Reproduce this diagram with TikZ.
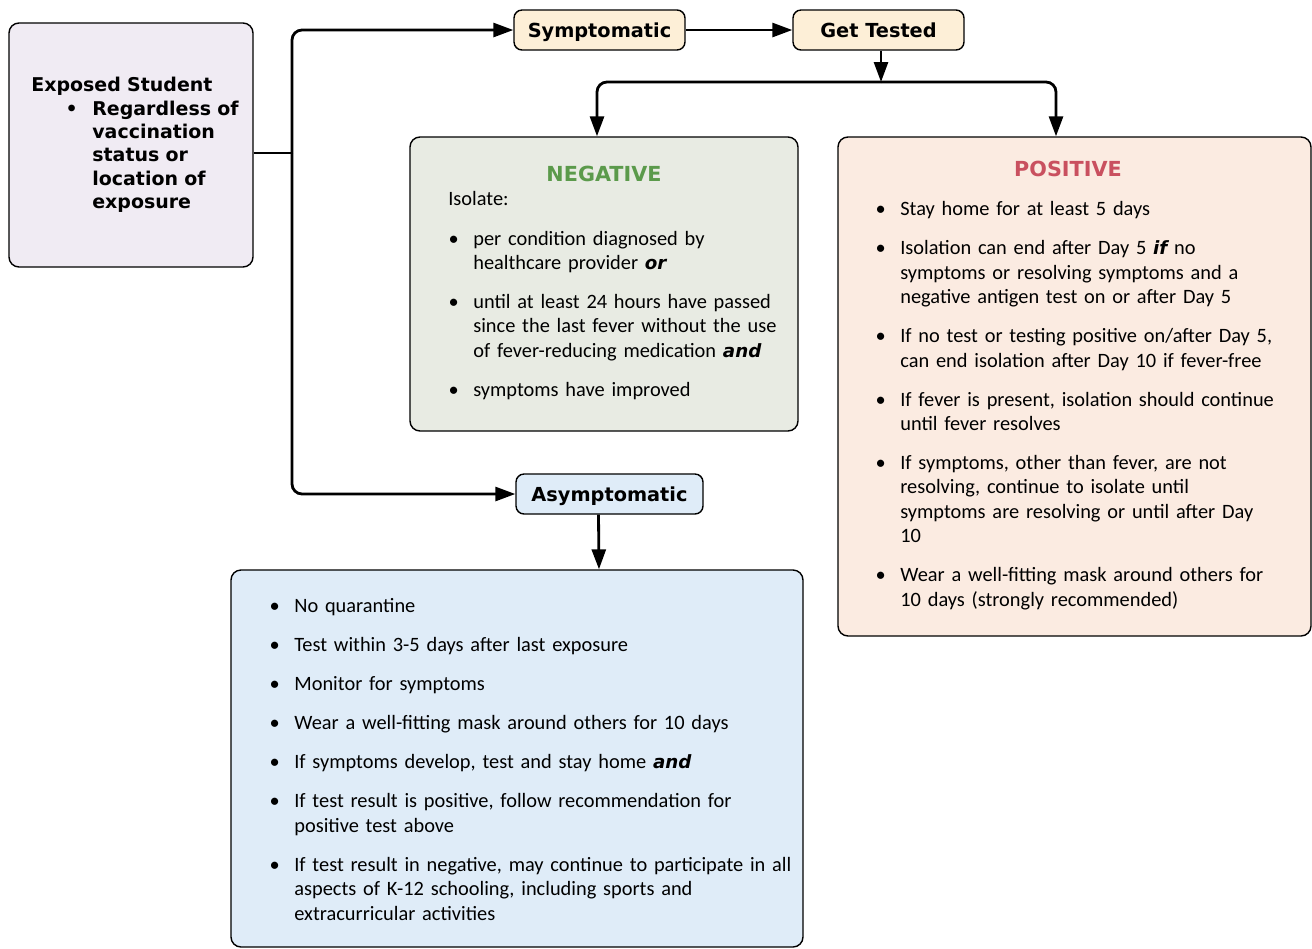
\documentclass[tikz,border=0pt]{standalone}
\usepackage{fontspec}
\setmainfont{Carlito}
\newfontfamily\headfont{DejaVu Sans}
\usepackage{enumitem}
\usetikzlibrary{arrows.meta,positioning,fit}
\definecolor{qlilac}{HTML}{F0EBF3}
\definecolor{qsand}{HTML}{FDEFD7}
\definecolor{qsage}{HTML}{E8EBE3}
\definecolor{qpeach}{HTML}{FBEBE1}
\definecolor{qsky}{HTML}{DFECF8}
\definecolor{qgreen}{HTML}{5B9A4B}
\definecolor{qred}{HTML}{C9505F}
\setlist[itemize]{label=\textbullet, labelwidth=0pt, labelsep=0.29cm, leftmargin=0.38cm,
  topsep=0pt, partopsep=0pt, parsep=0pt, itemsep=8.3pt}
\newcommand\bi[1]{{\headfont\bfseries\itshape\fontsize{10.4}{13.9}\selectfont #1}}
\tikzset{
  bx/.style={draw=black, line width=0.8pt, rounded corners=0.2cm, inner sep=0pt},
  stage/.style={bx, rounded corners=0.16cm, minimum width=3.42cm, minimum height=0.8cm,
    text depth=0pt, font=\headfont\bfseries\fontsize{11}{13}\selectfont},
  head/.style={inner sep=0pt, font=\headfont\bfseries\fontsize{11.8}{14}\selectfont},
  body/.style={inner sep=0pt, anchor=north west, align=left,
    font=\fontsize{11.6}{13.9}\selectfont},
  link/.style={line width=1.6pt, rounded corners=0.2cm},
  arr/.style={link, -{Triangle[length=4mm, width=2.8mm]}},
}
\begin{document}
\begin{tikzpicture}[x=0.02cm, y=-0.02cm]
  \useasboundingbox (0,0) rectangle (1312,948);
  % boxes
  \node[bx, fill=qlilac, fit={(9,23) (253,267)}] (exp) {};
  \node[stage, fill=qsand] (sym) at (599.5,30) {Symptomatic};
  \node[stage, fill=qsand] (test) at (878.5,30) {Get Tested};
  \node[bx, fill=qsage, fit={(410,137) (798,431)}] (neg) {};
  \node[bx, fill=qpeach, fit={(838,137) (1311,636)}] (pos) {};
  \node[stage, fill=qsky, minimum width=3.74cm] (asym) at (609.5,494) {Asymptomatic};
  \node[bx, fill=qsky, fit={(231,570) (803,947)}] (lst) {};
  % texts
  \node[body, text width=4.34cm, font=\headfont\bfseries\fontsize{10.8}{13.3}\selectfont] (exptxt) at (31,77) {%
    Exposed Student\par
    \begin{itemize}[leftmargin=1.22cm, itemsep=0pt]
      \item Regardless of\newline vaccination\newline status or\newline location of\newline exposure
    \end{itemize}};
  \node[head, text=qgreen] (neghead) at (604,174) {NEGATIVE};
  \node[body, text width=6.8cm] (negtxt) at (448,191) {%
    Isolate:\par
    \begin{itemize}[leftmargin=0.5cm, topsep=8.6pt]
      \item per condition diagnosed by\newline healthcare provider \bi{or}
      \item until at least 24 hours have passed\newline since the last fever without the use\newline of fever-reducing medication \bi{and}
      \item symptoms have improved
    \end{itemize}};
  \node[head, text=qred] (poshead) at (1068,169) {POSITIVE};
  \node[body, text width=8.4cm] (postxt) at (881,191) {%
    \begin{itemize}
      \item Stay home for at least 5 days
      \item Isolation can end after Day 5 \bi{if} no\newline symptoms or resolving symptoms and a\newline negative antigen test on or after Day 5
      \item If no test or testing positive on/after Day 5,\newline can end isolation after Day 10 if fever-free
      \item If fever is present, isolation should continue\newline until fever resolves
      \item If symptoms, other than fever, are not\newline resolving, continue to isolate until\newline symptoms are resolving or until after Day\newline 10
      \item Wear a well-fitting mask around others for\newline 10 days (strongly recommended)
    \end{itemize}};
  \node[body, text width=10.4cm] (lsttxt) at (275,588) {%
    \begin{itemize}
      \item No quarantine
      \item Test within 3-5 days after last exposure
      \item Monitor for symptoms
      \item Wear a well-fitting mask around others for 10 days
      \item If symptoms develop, test and stay home \bi{and}
      \item If test result is positive, follow recommendation for\newline positive test above
      \item If test result in negative, may continue to participate in all\newline aspects of K-12 schooling, including sports and\newline extracurricular activities
    \end{itemize}};
  % connectors
  \coordinate (fork) at (292,153);
  \coordinate (split) at (881,82);
  \draw[link] (fork -| exp.east) -- (fork);
  \draw[arr] (fork) |- (sym.west);
  \draw[arr] (fork) |- (asym.west);
  \draw[arr] (sym) -- (test);
  \draw[arr] (split |- test.south) -- (split);
  \draw[arr] (split) -| ([xshift=-0.14cm]neg.north);
  \draw[arr] (split) -| ([xshift=-0.37cm]pos.north);
  \draw[arr] ([xshift=-0.22cm]asym.south) -- ([xshift=1.64cm]lst.north);
\end{tikzpicture}
\end{document}
